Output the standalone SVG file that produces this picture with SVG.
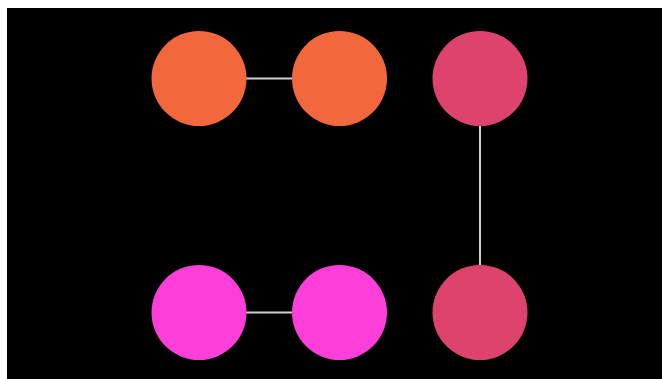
<svg xmlns="http://www.w3.org/2000/svg" width="662" height="379" viewBox="0 0 662 379">
<style>
.edge{stroke:#cfcfcf;stroke-width:2;fill:none}
.orange{fill:#f2683c}
.crimson{fill:#de436d}
.magenta{fill:#fd3ed8}
</style>
<rect x="0" y="0" width="662" height="379" fill="#ffffff"/>
<rect x="7" y="8" width="655" height="371" fill="#000000"/>
<g id="connectors">
<line class="edge" x1="246" y1="78.5" x2="292" y2="78.5"/>
<line class="edge" x1="246" y1="312.5" x2="292" y2="312.5"/>
<line class="edge" x1="480" y1="126" x2="480" y2="265"/>
</g>
<g id="node-a"><circle class="orange" cx="199" cy="78.5" r="47.5"/></g>
<g id="node-b"><circle class="orange" cx="339.5" cy="78.5" r="47.5"/></g>
<g id="node-c"><circle class="crimson" cx="480" cy="78.5" r="47.5"/></g>
<g id="node-d"><circle class="magenta" cx="199" cy="312.5" r="47.5"/></g>
<g id="node-e"><circle class="magenta" cx="339.5" cy="312.5" r="47.5"/></g>
<g id="node-f"><circle class="crimson" cx="480" cy="312.5" r="47.5"/></g>
</svg>
